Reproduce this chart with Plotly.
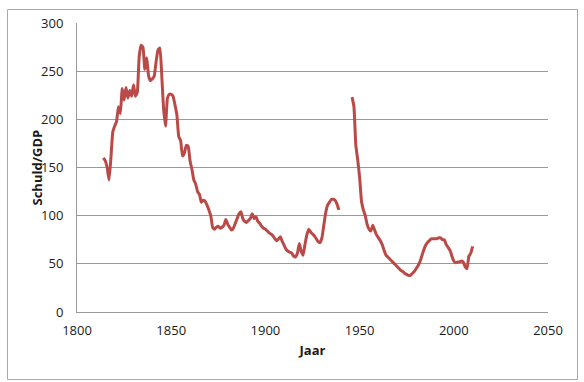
import plotly.graph_objects as go

years = [1814, 1815, 1816, 1817, 1818, 1819, 1820, 1821, 1822, 1823, 1824, 1825, 1826, 1827, 1828, 1829,
         1830, 1831, 1832, 1833, 1834, 1835, 1836, 1837, 1838, 1839, 1840, 1841, 1842, 1843, 1844, 1845,
         1846, 1847, 1848, 1849, 1850, 1851, 1852, 1853, 1854, 1855, 1856, 1857, 1858, 1859, 1860, 1861,
         1862, 1863, 1864, 1865, 1866, 1867, 1868, 1869, 1870, 1871, 1872, 1873, 1874, 1875, 1876, 1877,
         1878, 1879, 1880, 1881, 1882, 1883, 1884, 1885, 1886, 1887, 1888, 1889, 1890, 1891, 1892, 1893,
         1894, 1895, 1896, 1897, 1898, 1899, 1900, 1901, 1902, 1903, 1904, 1905, 1906, 1907, 1908, 1909,
         1910, 1911, 1912, 1913, 1914, 1915, 1916, 1917, 1918, 1919, 1920, 1921, 1922, 1923, 1924, 1925,
         1926, 1927, 1928, 1929, 1930, 1931, 1932, 1933, 1934, 1935, 1936, 1937, 1938, 1939, 1940,
         1946, 1947, 1948, 1949, 1950, 1951, 1952, 1953, 1954, 1955, 1956, 1957, 1958, 1959, 1960, 1961,
         1962, 1963, 1964, 1965, 1966, 1967, 1968, 1969, 1970, 1971, 1972, 1973, 1974, 1975, 1976, 1977,
         1978, 1979, 1980, 1981, 1982, 1983, 1984, 1985, 1986, 1987, 1988, 1989, 1990, 1991, 1992, 1993,
         1994, 1995, 1996, 1997, 1998, 1999, 2000, 2001, 2002, 2003, 2004, 2005, 2006, 2007, 2008, 2009,
         2010]

debt_gdp = [160, 157, 150, 137, 160, 187, 193, 198, 213, 206, 232, 220, 233, 222, 230, 224,
            236, 224, 228, 265, 277, 275, 252, 264, 245, 240, 242, 245, 260, 272, 274, 245,
            210, 193, 222, 226, 226, 224, 215, 205, 182, 178, 162, 165, 173, 172, 157, 148,
            137, 133, 125, 122, 114, 116, 115, 111, 106, 100, 88, 86, 88, 89, 87, 88,
            90, 96, 91, 88, 85, 87, 92, 97, 102, 104, 97, 94, 93, 95, 97, 102,
            97, 99, 94, 92, 89, 87, 86, 84, 82, 81, 79, 76, 74, 76, 78, 73,
            69, 65, 63, 62, 61, 58, 57, 61, 71, 63, 59, 70, 80, 86, 83, 81,
            79, 76, 73, 72, 77, 90, 103, 111, 114, 117, 117, 116, 112, 106, None,
            223, 213, 173, 158, 140, 115, 106, 100, 91, 86, 84, 90, 85, 80, 77, 74,
            70, 64, 59, 57, 55, 53, 51, 49, 47, 45, 43, 42, 40, 39, 38, 38,
            40, 42, 45, 48, 52, 58, 64, 69, 72, 74, 76, 76, 76, 76, 77, 77,
            75, 75, 70, 67, 64, 58, 53, 51, 52, 52, 53, 52, 47, 45, 58, 61,
            68]

x_ticks = [1800, 1850, 1900, 1950, 2000, 2050]
y_ticks = [0, 50, 100, 150, 200, 250, 300]
x_title = "Jaar"
y_title = "Schuld/GDP"

FONT = "Open Sans"
GRID = "#9a9a9a"

fig = go.Figure()
fig.add_trace(go.Scatter(
    x=years, y=debt_gdp, mode="lines", connectgaps=False,
    line=dict(color="#BA4A47", width=3, shape="spline", smoothing=0.4),
    showlegend=False, hoverinfo="x+y",
))

# plot area: x 77..548, y 23..312 in pixels
L, R, T, B = 77, 548, 23, 312
W, H = R - L, B - T

def px(xp):
    return (xp - L) / W

def py(yp):
    return (B - yp) / H

fig.add_shape(type="rect", xref="paper", yref="paper",
              x0=px(7.5), x1=px(577.5), y0=py(379.5), y1=py(9.5),
              line=dict(color="#a8a8a8", width=1), fillcolor="rgba(0,0,0,0)", layer="above")

fig.add_annotation(text="<b>%s</b>" % y_title, xref="paper", yref="paper",
                   x=px(36), y=0.5, textangle=-90, showarrow=False,
                   xanchor="center", yanchor="middle", font=dict(family=FONT, size=13))

fig.update_layout(
    width=584, height=382,
    margin=dict(l=L, r=584 - R, t=T, b=382 - B, autoexpand=False),
    paper_bgcolor="white", plot_bgcolor="white",
    font=dict(family=FONT, size=13, color="#1a1a1a"),
    xaxis=dict(
        range=[1800, 2050], tickvals=x_ticks, ticktext=[str(v) for v in x_ticks],
        showgrid=False, zeroline=False, showline=True, linecolor=GRID, linewidth=1,
        ticks="", ticklabelstandoff=6, automargin=False,
        title=dict(text="<b>%s</b>" % x_title, font=dict(family=FONT, size=13), standoff=8),
    ),
    yaxis=dict(
        range=[0, 300], tickvals=y_ticks, ticktext=[str(v) for v in y_ticks],
        showgrid=True, gridcolor=GRID, gridwidth=1, zeroline=False,
        showline=True, linecolor=GRID, linewidth=1,
        ticks="", ticklabelstandoff=10, automargin=False,
    ),
)

fig.write_html("out.html", config={"displayModeBar": False},
               post_script="document.body.style.margin='0';document.body.style.padding='0';")
